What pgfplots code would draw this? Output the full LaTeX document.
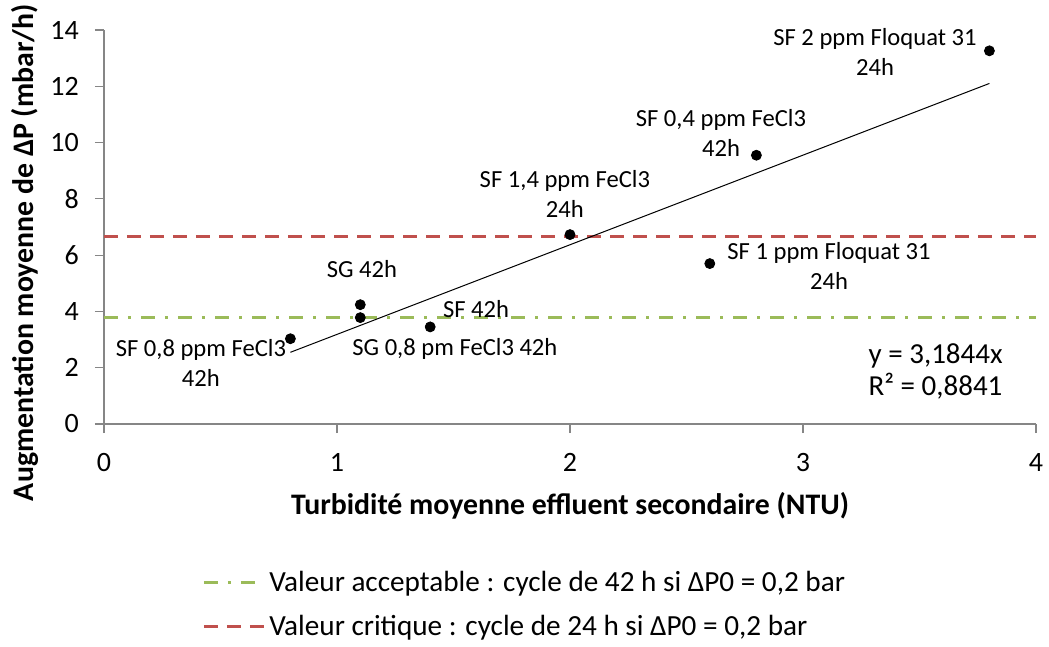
\documentclass[border=0pt]{standalone}
\usepackage{pgfplots}
\pgfplotsset{compat=1.18}
\usepackage{fontspec}
\setmainfont{Carlito}
\definecolor{exred}{RGB}{192,80,77}
\definecolor{exgreen}{RGB}{155,187,89}
\definecolor{axgray}{RGB}{134,134,134}
\begin{document}
\begin{tikzpicture}
\useasboundingbox (-52pt,-111.5pt) rectangle (472.5pt,212pt);
\begin{axis}[
  scale only axis, width=466pt, height=197pt,
  xmin=0, xmax=4, ymin=0, ymax=14,
  xtick={0,1,2,3,4}, ytick={0,2,4,6,8,10,12,14},
  axis x line*=bottom, axis y line*=left,
  axis line style={-, draw=axgray, line width=0.6pt},
  tick align=outside, major tick length=4.5pt,
  tick style={axgray, line width=0.6pt},
  /pgf/number format/assume math mode=true,
  tick label style={font=\fontsize{14}{16}\selectfont, text=black},
  xticklabel style={yshift=-6.5pt},
  yticklabel style={xshift=-4.6pt},
  xlabel={Turbidité moyenne effluent secondaire (NTU)},
  ylabel={Augmentation moyenne de ΔP (mbar/h)},
  label style={font=\bfseries\fontsize{14.9}{17}\selectfont},
  xlabel style={at={(axis description cs:0.5,-0.208)}, anchor=center},
  ylabel style={at={(axis description cs:-0.0848,0.435)}, anchor=center},
  clip=false,
  legend style={at={(axis description cs:0.105,-0.362)}, anchor=north west,
    draw=none, fill=none, inner sep=0pt, row sep=6.5pt,
    font=\fontsize{14.6}{16.5}\selectfont,
    /tikz/every even column/.append style={column sep=5pt}},
  legend cell align=left,
  legend image code/.code={\draw[#1] (0pt,0pt) -- (30pt,0pt);},
]
\addplot[exgreen, line width=1.5pt, dash pattern=on 7pt off 5pt on 1.5pt off 5pt] coordinates {(0,3.8) (4,3.8)};
\addlegendentry{Valeur acceptable : cycle de 42 h si ΔP0 = 0,2 bar}
\addplot[exred, line width=1.5pt, dash pattern=on 7pt off 4.5pt] coordinates {(0,6.68) (4,6.68)};
\addlegendentry{Valeur critique : cycle de 24 h si ΔP0 = 0,2 bar}
\addplot[black, line width=0.5pt, forget plot] coordinates {(0.8,2.5475) (3.8,12.1007)};
\addplot[only marks, mark=*, mark size=2.5pt, black, forget plot] coordinates {
  (0.8,3.03) (1.1,4.24) (1.1,3.78) (1.4,3.45) (2.0,6.73) (2.6,5.70) (2.8,9.55) (3.8,13.26)};
\begin{scope}[every node/.style={font=\fontsize{12.3}{15}\selectfont, align=center, inner sep=0pt}]
\node at (axis cs:0.416,2.17) {SF 0,8 ppm FeCl3\\42h};
\node at (axis cs:1.107,5.52) {SG 42h};
\node at (axis cs:1.597,4.10) {SF 42h};
\node at (axis cs:1.506,2.67) {SG 0,8 pm FeCl3 42h};
\node at (axis cs:1.978,8.19) {SF 1,4 ppm FeCl3\\24h};
\node at (axis cs:3.112,5.63) {SF 1 ppm Floquat 31\\24h};
\node at (axis cs:2.648,10.33) {SF 0,4 ppm FeCl3\\42h};
\node at (axis cs:3.309,13.22) {SF 2 ppm Floquat 31\\24h};
\end{scope}
\node[anchor=west, inner sep=0pt, font=\fontsize{14.5}{16}\selectfont] at (axis cs:3.28,2.42) {y = 3,1844x};
\node[anchor=west, inner sep=0pt, font=\fontsize{14.5}{16}\selectfont] at (axis cs:3.28,1.35) {R² = 0,8841};
\end{axis}
\end{tikzpicture}
\end{document}
